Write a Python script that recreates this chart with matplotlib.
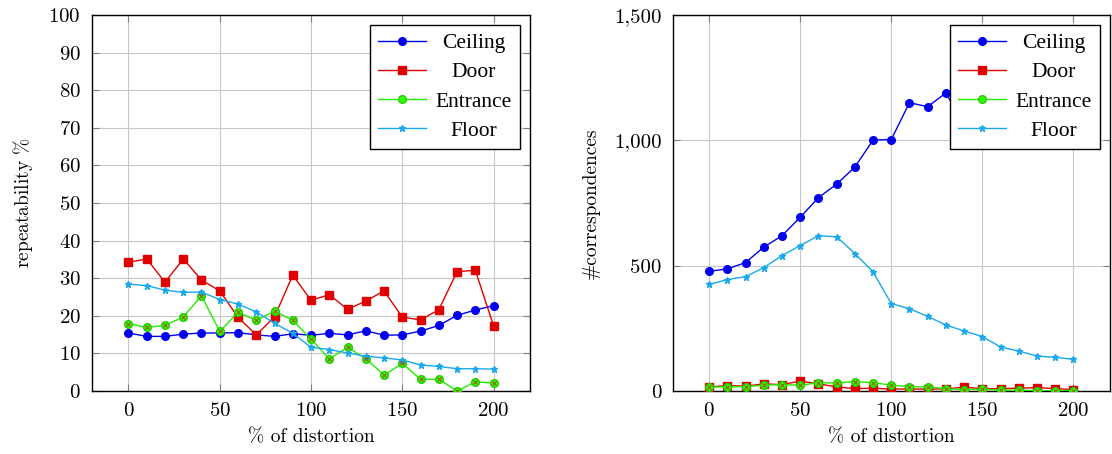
import matplotlib
matplotlib.use("Agg")
from matplotlib import pyplot as plt
from matplotlib.ticker import FuncFormatter
from matplotlib.font_manager import FontProperties
import numpy as np

distortion = list(range(0, 201, 10))

# repeatability %
rep_ceiling = [15.4, 14.5, 14.5, 15.1, 15.4, 15.4, 15.5, 14.9, 14.5, 15.2, 14.8,
               15.3, 14.9, 16.0, 14.8, 14.9, 15.9, 17.4, 20.1, 21.5, 22.7]
rep_door = [34.2, 35.1, 28.9, 35.1, 29.5, 26.6, 19.6, 14.9, 19.7, 30.8, 24.1,
            25.6, 21.7, 23.9, 26.6, 19.6, 18.9, 21.6, 31.7, 32.1, 17.3]
rep_entrance = [17.9, 16.9, 17.4, 19.7, 25.3, 15.8, 20.9, 18.8, 21.2, 18.8, 13.8,
                8.5, 11.6, 8.6, 4.2, 7.3, 3.1, 3.1, 0.0, 2.4, 2.1]
rep_floor = [28.4, 28.0, 26.8, 26.2, 26.3, 24.3, 23.1, 21.0, 18.0, 15.3, 11.6,
             11.0, 10.1, 9.2, 8.8, 8.2, 6.9, 6.5, 5.9, 5.9, 5.8]

# number of correspondences
cor_ceiling = [477, 487, 512, 574, 619, 693, 771, 825, 893, 1001, 1003,
               1150, 1134, 1189, 1060, 1100, 1090, 1120, 1150, 1140, 1170]
cor_door = [16, 21, 19, 28, 25, 39, 28, 16, 9, 11, 7,
            8, 7, 8, 15, 9, 9, 11, 13, 9, 5]
cor_entrance = [15, 16, 17, 23, 25, 23, 32, 32, 37, 33, 23,
                17, 16, 9, 5, 7, 3, 3, 1, 1, 1]
cor_floor = [425, 444, 456, 492, 540, 580, 619, 615, 548, 475, 348,
             328, 297, 263, 239, 217, 175, 159, 139, 134, 126]

names = ["Ceiling", "Door", "Entrance", "Floor"]

plt.rcParams['font.family'] = ['cmr10', 'DejaVu Serif']
plt.rcParams['mathtext.fontset'] = 'cm'
plt.rcParams['axes.formatter.use_mathtext'] = True

fig = plt.figure(figsize=(11.12, 4.54), dpi=100)
ax1 = fig.add_axes([0.0827, 0.139, 0.394, 0.828])
ax2 = fig.add_axes([0.605, 0.139, 0.393, 0.828])
legfont = FontProperties(family=['Liberation Serif'], size=15.5)


def draw(ax, series):
    c, d, e, f = series
    ax.plot(distortion, c, color='#0000ee', marker='o', ms=5.5, lw=1, label=names[0], zorder=3)
    ax.plot(distortion, d, color='#e00000', marker='s', ms=6, lw=1, label=names[1], zorder=3)
    ax.plot(distortion, e, color='#22ee00', marker='o', ms=5.5, mfc='#33ff00', mec='#22cc00',
            lw=1, label=names[2], zorder=3)
    ax.plot(distortion, e, ls='none', marker='x', ms=2.5, mew=0.7, color='#aa4400', zorder=4)
    ax.plot(distortion, f, color='#1aa8ec', marker='*', ms=5, lw=1, label=names[3], zorder=3)
    ax.set_xlim(-20, 220)
    ax.set_xticks([0, 50, 100, 150, 200])
    ax.grid(True, color='#c8c8c8', lw=0.8)
    ax.set_axisbelow(True)
    ax.tick_params(direction='in', top=True, right=True, length=5, color='#808080',
                   labelsize=15, pad=8)
    for s in ax.spines.values():
        s.set_linewidth(1.0)
    ax.set_xlabel('% of distortion', fontsize=14, labelpad=6)
    leg = ax.legend(loc='upper right', prop=legfont, fancybox=False, framealpha=1,
                    edgecolor='black', handlelength=2.2, handletextpad=0.45,
                    borderpad=0.4, labelspacing=0.42, borderaxespad=0.45)
    leg.get_frame().set_linewidth(1.0)
    # centre the entries in the text column like pgfplots does
    r = fig.canvas.get_renderer()
    widths = [t.get_window_extent(r).width for t in leg.get_texts()]
    for t, wi in zip(leg.get_texts(), widths):
        t.set_position(((max(widths) - wi) / 2, 0))


draw(ax1, [rep_ceiling, rep_door, rep_entrance, rep_floor])
ax1.set_ylim(0, 100)
ax1.set_yticks(range(0, 101, 10))
ax1.set_ylabel(r'repeatability $\%$', fontsize=14, labelpad=10)

draw(ax2, [cor_ceiling, cor_door, cor_entrance, cor_floor])
ax2.set_ylim(0, 1500)
ax2.set_yticks([0, 500, 1000, 1500])
ax2.yaxis.set_major_formatter(FuncFormatter(lambda v, p: f"{int(v):,}"))
ax2.set_ylabel('#correspondences', fontsize=14, labelpad=10)

fig.savefig('out.png', dpi=100)
